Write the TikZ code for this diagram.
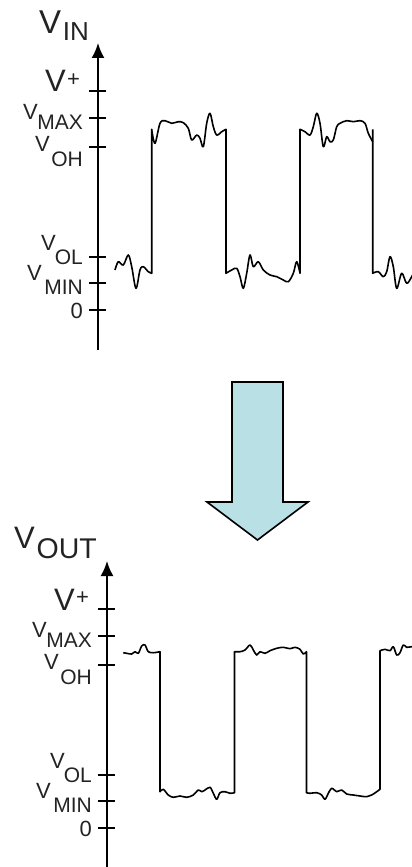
\documentclass[tikz,border=0pt]{standalone}
\usepackage{fontspec}
\setmainfont{Liberation Sans}
\usetikzlibrary{arrows.meta}
\definecolor{arrowfill}{RGB}{185,224,228}
\definecolor{txt}{RGB}{35,35,35}
\newcommand{\fs}[1]{\fontsize{#1}{#1}\selectfont}
\tikzset{
  axisline/.style={line width=1.9pt, -{Latex[length=15pt,width=13pt]}},
  tickmark/.style={line width=1.6pt},
  wave/.style={line width=1.6pt, line join=round},
  lbl/.style={inner sep=0pt, text=txt},
  bigarrow/.style={fill=arrowfill, draw=black, line width=1.6pt, line join=miter}
}
\begin{document}
\begin{tikzpicture}[x=1pt,y=-1pt]
\useasboundingbox (0,0) rectangle (412,867);
% ---------- axes (top and bottom are identical, shifted) ----------
\foreach \dx/\dy/\nm in {0/0/top,9/518/bot}{
\begin{scope}[shift={(\dx,\dy)}]
  \coordinate (\nm-a0) at (98,350);
  \coordinate (\nm-a1) at (98,43);
  \draw[axisline] (\nm-a0) -- (\nm-a1);
  \foreach \y in {91,118,147,257,283,310}{
    \draw[tickmark] (89,\y) -- (106,\y);
  }
  \node[lbl, anchor=base west, font=\fs{31}] (\nm-vp) at (45,92) {V};
  \node[lbl, anchor=base west, font=\fs{22}] (\nm-vps) at (67,86) {+};
  \node[lbl, anchor=base west, font=\fs{22}] (\nm-vmax) at (23,119) {V};
  \node[lbl, anchor=base east, font=\fs{21}] (\nm-vmaxs) at (83,129) {MAX};
  \node[lbl, anchor=base west, font=\fs{22}] (\nm-voh) at (35,151) {V};
  \node[lbl, anchor=base east, font=\fs{21}] (\nm-vohs) at (83,166) {OH};
  \node[lbl, anchor=base west, font=\fs{22}] (\nm-vol) at (41,250) {V};
  \node[lbl, anchor=base east, font=\fs{21}] (\nm-vols) at (83,264) {OL};
  \node[lbl, anchor=base west, font=\fs{22}] (\nm-vmin) at (27,280) {V};
  \node[lbl, anchor=base east, font=\fs{21}] (\nm-vmins) at (83,294) {MIN};
  \node[lbl, anchor=base east, font=\fs{22}] (\nm-zero) at (83,318) {0};
\end{scope}
}
% ---------- axis titles ----------
\node[lbl, anchor=base west, font=\fs{33}] (vin) at (39,34) {V};
\node[lbl, anchor=base east, font=\fs{26}] (vins) at (89,41) {IN};
\node[lbl, anchor=base west, font=\fs{31}] (vout) at (14,548) {V};
\node[lbl, anchor=base east, font=\fs{28.5}] (vouts) at (97,558) {OUT};
% ---------- input waveform ----------
\draw[wave]
  plot[smooth,tension=0.55] coordinates {(115,270) (118.3,261.7) (123.3,265) (128.3,255) (131.7,266.7) (136,288.3) (140,270) (143.3,266.7) (148.3,271.7) (151.7,273.3)}
  -- plot[smooth,tension=0.55] coordinates {(151.7,129.3) (155,143.3) (160,123.3) (165,120.7) (171.7,123.3) (178.3,121.7) (183.3,122.7) (188.3,128.3) (191.7,140) (196.7,135) (200,138.3) (203.3,146.7) (206.7,123.3) (210,113.3) (213.3,126.7) (216.7,135) (221.7,131.7) (226,129.3)}
  -- plot[smooth,tension=0.55] coordinates {(226,273.3) (231.7,270) (236.7,268.3) (240,276.7) (243.3,288.3) (246.7,273.3) (250,255) (253.3,266.7) (258.3,261.7) (263.3,270) (270,275) (276.7,276.7) (283.3,280) (288.3,281.7) (293.3,273.3) (296.7,261.7) (300,273.3)}
  -- plot[smooth,tension=0.55] coordinates {(300,129.3) (305,131.7) (310,135) (313.3,126.7) (316.7,113.3) (320,123.3) (323.3,146.7) (326.7,136.7) (330,141.7) (333.3,140) (336.7,126.7) (340,123.3) (346.7,120.7) (353.3,121.7) (360,120.7) (365,123.3) (368.3,133.3) (372.7,141.7)};
\draw[wave] (372.7,129.3) -- plot[smooth,tension=0.55] coordinates {(372.7,273.3) (378.3,271.7) (383.3,276.7) (386.7,271.7) (390,256.7) (393.3,266.7) (396.7,288.3) (401.7,273.3) (406.7,283.3) (411.7,276.7) (415,270)};
% ---------- output waveform ----------
\draw[wave]
  plot[smooth,tension=0.55] coordinates {(123.3,652.7) (126.7,653.3) (131.7,654) (135,651.7) (138.3,653.3) (141.7,646) (145,645) (148.3,651.7) (153.3,652.7) (160,651.7)}
  -- plot[smooth,tension=0.55] coordinates {(160,791.7) (163.3,789.3) (168.3,795) (173.3,797.3) (180,796) (186.7,797.3) (193.3,795) (198.3,790) (201.7,791.7) (205,790) (210,787.3) (213.3,793.3) (216.7,799.3) (220,792.7) (225,791.7) (230,793.3) (234.5,792.7)}
  -- plot[smooth,tension=0.55] coordinates {(234.5,651.7) (240,651.7) (245,650) (250,645) (253.3,650) (256.7,655) (260,651.7) (265,653.3) (270,650.7) (276.7,648.3) (283.3,647.3) (290,648.7) (295,647.3) (300,649.3) (303.3,654) (306.5,651.7)}
  -- plot[smooth,tension=0.55] coordinates {(306.5,792.7) (310,793.3) (316.7,792.7) (321.7,795) (325,799.3) (328.3,793.3) (331.7,788.3) (336.7,791.7) (341.7,790) (346.7,794) (353.3,795) (360,796) (366.7,796.7) (371.7,795) (376.7,791.7) (380,789.3)}
  -- plot[smooth,tension=0.55] coordinates {(380,650.7) (385,649.3) (390,650.7) (393.3,646.7) (396.7,655) (400,652.7) (403.3,645) (406.7,647.3) (411.7,646.7) (415,648)};
% ---------- big arrow ----------
\node[inner sep=0pt] (arrtop) at (257.5,382) {};
\node[inner sep=0pt] (arrtip) at (257.5,540) {};
\draw[bigarrow] (232,382) -- (283,382) -- (283,502) -- (308,502) -- (arrtip.center) -- (207,502) -- (232,502) -- cycle;
\end{tikzpicture}
\end{document}
